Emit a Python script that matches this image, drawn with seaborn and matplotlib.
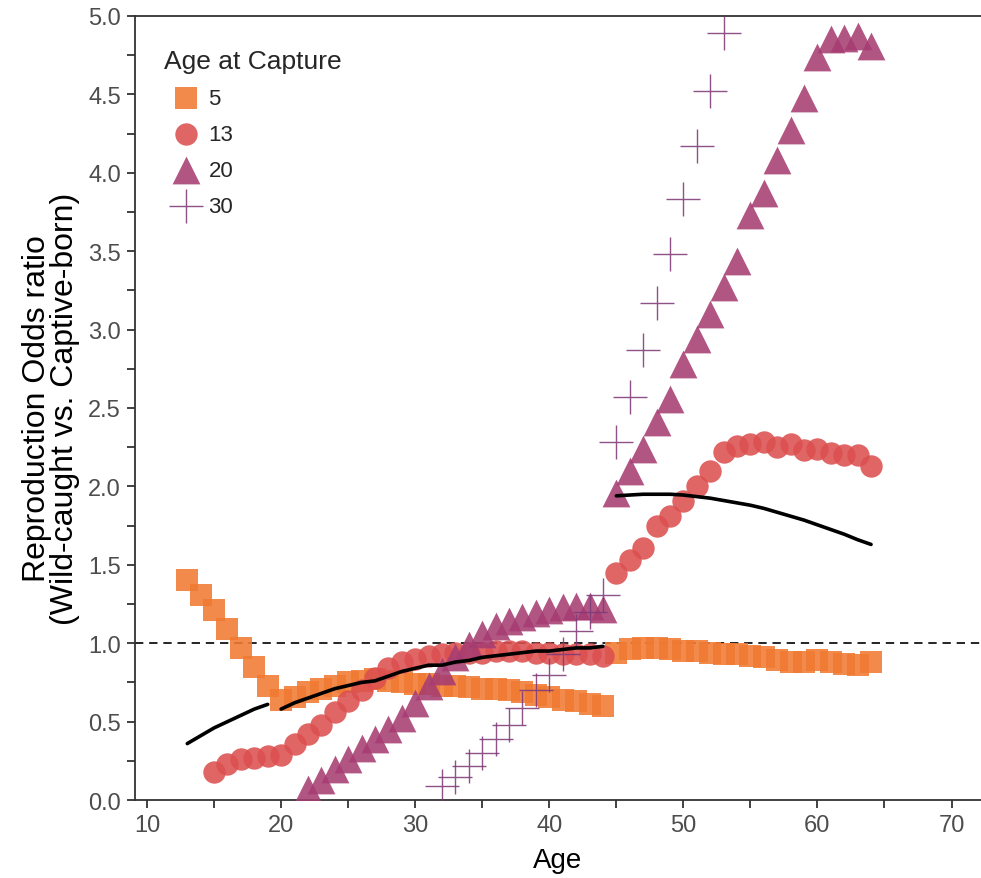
import numpy as np
import pandas as pd
import matplotlib
matplotlib.use("Agg")
import matplotlib.pyplot as plt
import seaborn as sns
from matplotlib.ticker import MultipleLocator

# ages for the two fitted windows
ages_a = list(range(13, 45))
ages_b = list(range(45, 65))

# Age at capture 5 (squares)
sq_a = [1.40, 1.31, 1.21, 1.09, 0.97, 0.85, 0.73, 0.64, 0.66, 0.69, 0.71, 0.73,
        0.75, 0.76, 0.77, 0.76, 0.75, 0.74, 0.74, 0.73, 0.73, 0.72, 0.71, 0.71,
        0.70, 0.69, 0.67, 0.66, 0.64, 0.63, 0.61, 0.60]
sq_b = [0.94, 0.96, 0.97, 0.97, 0.96, 0.95, 0.95, 0.94, 0.93, 0.93, 0.92, 0.91,
        0.89, 0.88, 0.88, 0.89, 0.88, 0.87, 0.86, 0.88]

# Age at capture 13 (circles)
ci_ages_a = list(range(15, 45))
ci_a = [0.18, 0.23, 0.26, 0.27, 0.28, 0.29, 0.36, 0.42, 0.48, 0.56, 0.63, 0.70,
        0.78, 0.84, 0.88, 0.90, 0.92, 0.93, 0.94, 0.94, 0.94, 0.95, 0.95, 0.95,
        0.94, 0.94, 0.93, 0.93, 0.93, 0.92]
ci_b = [1.45, 1.53, 1.61, 1.75, 1.81, 1.91, 2.00, 2.10, 2.22, 2.26, 2.27, 2.28,
        2.25, 2.27, 2.23, 2.24, 2.21, 2.20, 2.20, 2.13]

# Age at capture 20 (triangles)
tr_ages_a = list(range(22, 45))
tr_a = [0.07, 0.13, 0.20, 0.26, 0.33, 0.39, 0.45, 0.52, 0.62, 0.73, 0.82, 0.91,
        0.99, 1.06, 1.11, 1.14, 1.17, 1.19, 1.21, 1.23, 1.24, 1.24, 1.22]
tr_b = [1.96, 2.10, 2.24, 2.41, 2.56, 2.78, 2.94, 3.10, 3.27, 3.44, 3.73, 3.87,
        4.08, 4.27, 4.48, 4.74, 4.85, 4.86, 4.87, 4.81]

# Age at capture 30 (crosses)
cr_ages_a = list(range(32, 45))
cr_a = [0.09, 0.15, 0.22, 0.30, 0.39, 0.48, 0.59, 0.70, 0.80, 0.93, 1.08, 1.20, 1.31]
cr_ages_b = list(range(45, 54))
cr_b = [2.28, 2.57, 2.87, 3.17, 3.48, 3.83, 4.17, 4.52, 4.89]

# overall fitted curve, three pieces
fit1_ages = list(range(13, 20))
fit1 = [0.36, 0.41, 0.46, 0.50, 0.54, 0.58, 0.61]
fit2_ages = list(range(20, 45))
fit2 = [0.58, 0.62, 0.65, 0.68, 0.71, 0.73, 0.75, 0.76, 0.79, 0.82, 0.84, 0.86,
        0.86, 0.88, 0.89, 0.91, 0.92, 0.93, 0.94, 0.95, 0.95, 0.96, 0.97, 0.97, 0.98]
fit3_ages = ages_b
fit3 = [1.94, 1.945, 1.95, 1.95, 1.95, 1.945, 1.935, 1.925, 1.91, 1.895, 1.88, 1.86,
        1.835, 1.81, 1.785, 1.755, 1.725, 1.695, 1.66, 1.63]

capture_labels = ["5", "13", "20", "30"]

sns.set_style("white")
plt.rcParams["font.family"] = ["Liberation Sans", "DejaVu Sans"]

fig = plt.figure(figsize=(9.81, 8.79), dpi=100)
ax = fig.add_axes([0.1376, 0.0887, 0.8624, 0.892])

groups = [
    (ages_a + ages_b, sq_a + sq_b, "s", 250, "#F07A32", 0),
    (ci_ages_a + ages_b, ci_a + ci_b, "o", 260, "#DC5050", 0),
    (tr_ages_a + ages_b, tr_a + tr_b, "^", 400, "#A63D72", 0),
    (cr_ages_a + cr_ages_b, cr_a + cr_b, "+", 600, "#7E3A78", 1.0),
]
for (xs, ys, mk, sz, col, lw), lab in zip(groups, capture_labels):
    df = pd.DataFrame({"Age": xs, "OR": ys})
    sns.scatterplot(data=df, x="Age", y="OR", marker=mk, s=sz, color=col,
                    linewidth=lw, alpha=0.88, ax=ax, label=lab, zorder=3)

for fx, fy in [(fit1_ages, fit1), (fit2_ages, fit2), (fit3_ages, fit3)]:
    sns.lineplot(x=fx, y=fy, color="black", linewidth=2.6, ax=ax, zorder=4)

ax.axhline(1.0, color="black", linestyle=(0, (5, 3.5)), linewidth=1.2, zorder=2)

ax.set_xlim(9.1, 72.2)
ax.set_ylim(0, 5)
ax.xaxis.set_major_locator(MultipleLocator(10))
ax.xaxis.set_minor_locator(MultipleLocator(5))
ax.yaxis.set_major_locator(MultipleLocator(0.5))
ax.yaxis.set_minor_locator(MultipleLocator(0.25))
ax.yaxis.set_major_formatter(matplotlib.ticker.FormatStrFormatter("%.1f"))

for s in ["left", "bottom", "top"]:
    ax.spines[s].set_color("#333333")
    ax.spines[s].set_linewidth(1.3)
ax.spines["right"].set_visible(False)
ax.tick_params(which="both", direction="out", length=6, width=1.3,
               color="#333333", labelcolor="#4D4D4D", labelsize=17,
               left=True, bottom=True, pad=4)

ax.set_xlabel("Age", fontsize=20, color="black", labelpad=8)
ax.set_ylabel("Reproduction Odds ratio\n(Wild-caught vs. Captive-born)",
              fontsize=23, color="black", linespacing=0.9, labelpad=6)

leg = ax.legend(title="Age at Capture", loc="upper left",
                bbox_to_anchor=(0.016, 0.978), frameon=False, fontsize=16,
                title_fontsize=19, handletextpad=0.0, labelspacing=0.68,
                borderaxespad=0.3, handlelength=2.0)
leg._legend_box.align = "left"

fig.savefig("out.png", dpi=100)
